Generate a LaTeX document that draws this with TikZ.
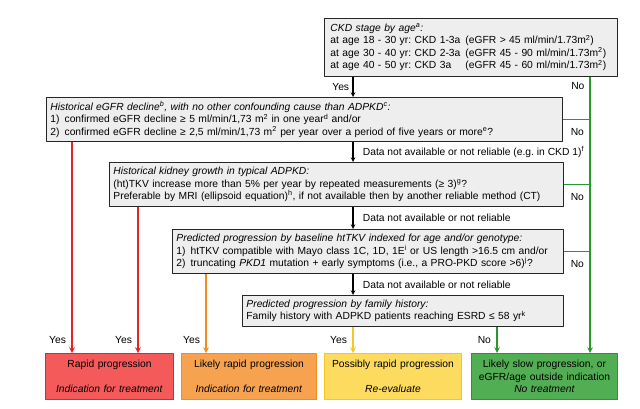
\documentclass[tikz,border=0pt]{standalone}
\usepackage{fontspec}
\setmainfont{Liberation Sans}
\usetikzlibrary{positioning}
\definecolor{boxgray}{HTML}{EEEEEE}
\definecolor{boxline}{HTML}{262626}
\definecolor{redfill}{HTML}{F55A5A}
\definecolor{redline}{HTML}{E62222}
\definecolor{orangefill}{HTML}{F7A24E}
\definecolor{orangeline}{HTML}{F28B22}
\definecolor{yellowfill}{HTML}{FDDB5E}
\definecolor{yellowline}{HTML}{F9C521}
\definecolor{greenfill}{HTML}{52AE52}
\definecolor{greenline}{HTML}{259A2C}
\newcommand{\sps}[1]{\textsuperscript{#1}}
\newcommand{\agecol}[1]{\makebox[135pt][l]{#1}}
\frenchspacing
\begin{document}
\begin{tikzpicture}[x=1pt,y=-1pt,line join=round,>=stealth,font=\fontsize{10.3}{12.4}\selectfont]
    \tikzset{qbox/.style={draw=boxline,fill=boxgray,line width=0.9pt,anchor=north west,align=left,inner xsep=4pt,inner ysep=0pt},
        obox/.style={draw=#1line,fill=#1fill,line width=1pt,anchor=north west,align=center,inner sep=0pt,minimum height=46pt,text=black},
        flow/.style={->,line width=1.1pt,draw=black},
        cflow/.style={->,line width=1.5pt,draw=#1line},
        yes/.style={anchor=south east,yshift=5pt,xshift=-2pt,text=black},
        no/.style={anchor=north east,yshift=#1,xshift=-2pt,text=black}}
    \useasboundingbox (0,0) rectangle (640,408);
    \coordinate (mx) at (353,0);
    \coordinate (r1) at (72,0);
    \coordinate (r2) at (138,0);
    \coordinate (o1) at (206,0);
    \coordinate (g1) at (497,0);
    \coordinate (gx) at (590,0);
    \node[qbox,inner xsep=6pt,text width=281pt,minimum height=58pt] (ckd) at (324,18) {\textit{CKD stage by age\sps{a}:}\\
        \agecol{at age 18 - 30 yr: CKD 1-3a}(eGFR > 45 ml/min/1.73m\sps{2})\\
        \agecol{at age 30 - 40 yr: CKD 2-3a}(eGFR 45 - 90 ml/min/1.73m\sps{2})\\
        \agecol{at age 40 - 50 yr: CKD 3a}(eGFR 45 - 60 ml/min/1.73m\sps{2})};
    \node[qbox,text width=508pt,minimum height=44pt] (egfr) at (46,97) {\textit{Historical eGFR decline\sps{b}, with no other confounding cause than ADPKD\sps{c}:}\\
        1)\hspace{5pt}confirmed eGFR decline ≥ 5 ml/min/1,73 m\sps{2} in one year\sps{d} and/or\\
        2)\hspace{5pt}confirmed eGFR decline ≥ 2,5 ml/min/1,73 m\sps{2} per year over a period of five years or more\sps{e}?};
    \node[qbox,text width=446pt,minimum height=44pt] (growth) at (109,162) {\textit{Historical kidney growth in typical ADPKD:}\\
        (ht)TKV increase more than 5\% per year by repeated measurements (≥ 3)\sps{g}?\\
        Preferable by MRI (ellipsoid equation)\sps{h}, if not available then by another reliable method (CT)};
    \node[qbox,text width=383pt,minimum height=44pt] (tkv) at (172,229) {\textit{Predicted progression by baseline htTKV indexed for age and/or genotype:}\\
        1)\hspace{5pt}htTKV compatible with Mayo class 1C, 1D, 1E\sps{i} or US length >16.5 cm and/or\\
        2)\hspace{5pt}truncating \textit{PKD1} mutation + early symptoms (i.e., a PRO-PKD score >6)\sps{j}?};
    \node[qbox,text width=313pt,minimum height=31pt] (family) at (242,295) {\textit{Predicted progression by family history:}\\
        Family history with ADPKD patients reaching ESRD ≤ 58 yr\sps{k}};
    \node[obox=red,text width=128pt] (rapid) at (45,353) {Rapid progression\\[12pt]\textit{Indication for treatment}};
    \node[obox=orange,text width=135pt] (likely) at (181,353) {Likely rapid progression\\[12pt]\textit{Indication for treatment}};
    \node[obox=yellow,text width=137pt] (possibly) at (324,353) {Possibly rapid progression\\[12pt]\textit{Re-evaluate}};
    \node[obox=green,text width=146pt] (slow) at (471,353) {Likely slow progression, or\\eGFR/age outside indication\\\textit{No treatment}};
    \draw[flow] (ckd.south -| mx) -- (egfr.north -| mx) node[midway,left] (yes0) {Yes};
    \draw[flow] (egfr.south -| mx) -- (growth.north -| mx) node[midway,right=6pt] (na1) {Data not available or not reliable (e.g. in CKD 1)\sps{f}};
    \draw[flow] (growth.south -| mx) -- (tkv.north -| mx) node[midway,right=6pt] (na2) {Data not available or not reliable};
    \draw[flow] (tkv.south -| mx) -- (family.north -| mx) node[midway,right=6pt] (na3) {Data not available or not reliable};
    \draw[cflow=green] (ckd.south -| gx) -- (slow.north -| gx);
    \node[no=-2pt] (no0) at (ckd.south -| gx) {No};
    \draw[line width=1.5pt,greenline] (egfr.east) -- (egfr.east -| gx) node[no=-5pt] (no1) {No};
    \draw[line width=1.5pt,greenline] (growth.east) -- (growth.east -| gx) node[no=-5pt] (no2) {No};
    \draw[line width=1.5pt,greenline] (tkv.east) -- (tkv.east -| gx) node[no=-5pt] (no3) {No};
    \draw[cflow=red] (egfr.south -| r1) -- (rapid.north -| r1) node[yes] (yes1) {Yes};
    \draw[cflow=red] (growth.south -| r2) -- (rapid.north -| r2) node[yes] (yes2) {Yes};
    \draw[cflow=orange] (tkv.south -| o1) -- (likely.north -| o1) node[yes] (yes3) {Yes};
    \draw[cflow=yellow] (family.south -| mx) -- (possibly.north -| mx) node[yes] (yes4) {Yes};
    \draw[cflow=green] (family.south -| g1) -- (slow.north -| g1) node[yes] (no4) {No};
\end{tikzpicture}
\end{document}
